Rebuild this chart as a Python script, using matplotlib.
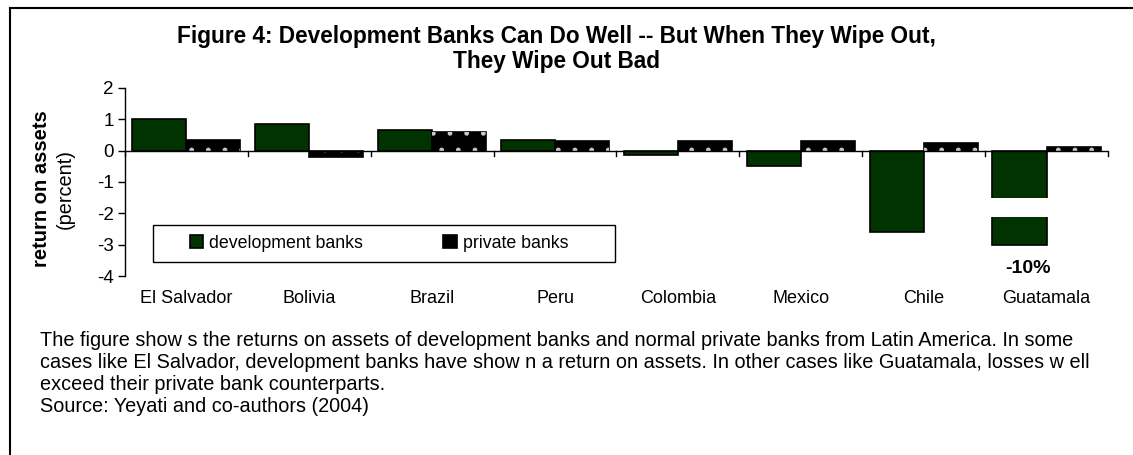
import numpy as np
import matplotlib.pyplot as plt
from matplotlib.lines import Line2D
from matplotlib.patches import Rectangle

plt.rcParams['font.family'] = ['Liberation Sans', 'DejaVu Sans']
plt.rcParams['axes.unicode_minus'] = False

countries = ['El Salvador', 'Bolivia', 'Brazil', 'Peru', 'Colombia', 'Mexico', 'Chile', 'Guatamala']
dev_banks = [1.0, 0.84, 0.65, 0.35, -0.15, -0.5, -2.58, -10.0]
private_banks = [0.35, -0.2, 0.6, 0.3, 0.31, 0.3, 0.26, 0.13]

# axis is cut at -3, Guatamala's bar gets a break in it
axis_floor = -3.0
break_lo, break_hi = -2.13, -1.52

dev_color = '#003300'

fig = plt.figure(figsize=(11.33, 4.55), dpi=100)
ax = fig.add_axes([0.1103, 0.3934, 0.8676, 0.4132])

x = np.arange(len(countries))
w = 0.44
dev_shown = [max(v, axis_floor) for v in dev_banks]
ax.bar(x - w / 2, dev_shown, w, color=dev_color, edgecolor='black', linewidth=1.2,
       label='development banks', zorder=2)
ax.bar(x + w / 2, private_banks, w, color='black', edgecolor='black', linewidth=1.2,
       label='private banks', zorder=2)
# light dots on the private bars
ax.bar(x + w / 2, private_banks, w, color='none', edgecolor='#c8c8c8', linewidth=0,
       hatch='.', zorder=3)

# break in the clipped bars
for i, v in enumerate(dev_banks):
    if v < axis_floor:
        ax.add_patch(Rectangle((i - w - 0.02, break_lo), w + 0.04, break_hi - break_lo,
                               facecolor='white', edgecolor='none', zorder=4))
        ax.text(i - w / 2 + 0.07, axis_floor - 0.75, '{:.0f}%'.format(v), ha='center', va='center',
                fontsize=14, fontweight='bold')

ax.set_xlim(-0.5, len(countries) - 0.5)
ax.set_ylim(-4, 2)
ax.set_yticks(range(-4, 3))
ax.tick_params(axis='y', labelsize=13.5, length=5, width=1, pad=3)
ax.tick_params(axis='x', length=0, labelsize=13, pad=10)
ax.set_xticks(x)
ax.set_xticklabels(countries)

for s in ['top', 'right', 'bottom']:
    ax.spines[s].set_visible(False)
ax.spines['left'].set_linewidth(1)
ax.axhline(0, color='black', linewidth=1, zorder=5)
# category separators on the zero line
for b in np.arange(-0.5, len(countries) + 0.5):
    ax.plot([b, b], [0, -0.17], color='black', linewidth=1, zorder=5, clip_on=False)

# legend box drawn separately so the entries sit in the middle
ax.add_patch(Rectangle((0.0285, 0.0745), 0.47, 0.197, transform=ax.transAxes,
                       facecolor='white', edgecolor='black', linewidth=1, zorder=6))
leg = ax.legend(loc='center', bbox_to_anchor=(0.0285 + 0.235 - 0.005, 0.0745 + 0.0985),
                ncol=2, frameon=False, fontsize=12.8, handlelength=0.75,
                handleheight=0.75, handletextpad=0.35, borderaxespad=0, columnspacing=4.5)
leg.set_zorder(7)

fig.text(0.037, 0.585, 'return on assets', rotation=90, ha='center', va='center',
         fontsize=14.5, fontweight='bold')
fig.text(0.058, 0.585, '(percent)', rotation=90, ha='center', va='center', fontsize=14.3)

fig.text(0.491, 0.892, 'Figure 4: Development Banks Can Do Well -- But When They Wipe Out,\nThey Wipe Out Bad',
         ha='center', va='center', fontsize=16.3, fontweight='bold', linespacing=1.15)

caption = ('The figure show s the returns on assets of development banks and normal private banks from Latin America. In some\n'
           'cases like El Salvador, development banks have show n a return on assets. In other cases like Guatamala, losses w ell\n'
           'exceed their private bank counterparts.\n'
           'Source: Yeyati and co-authors (2004)')
fig.text(0.0353, 0.272, caption, ha='left', va='top', fontsize=14.3, linespacing=1.2)

# outer frame (top and left edges)
fig.add_artist(Line2D([0.0088, 1.0], [0.982, 0.982], color='black', linewidth=1.5))
fig.add_artist(Line2D([0.0088, 0.0088], [0.0, 0.982], color='black', linewidth=1.5))

fig.savefig('out.png', dpi=100)
